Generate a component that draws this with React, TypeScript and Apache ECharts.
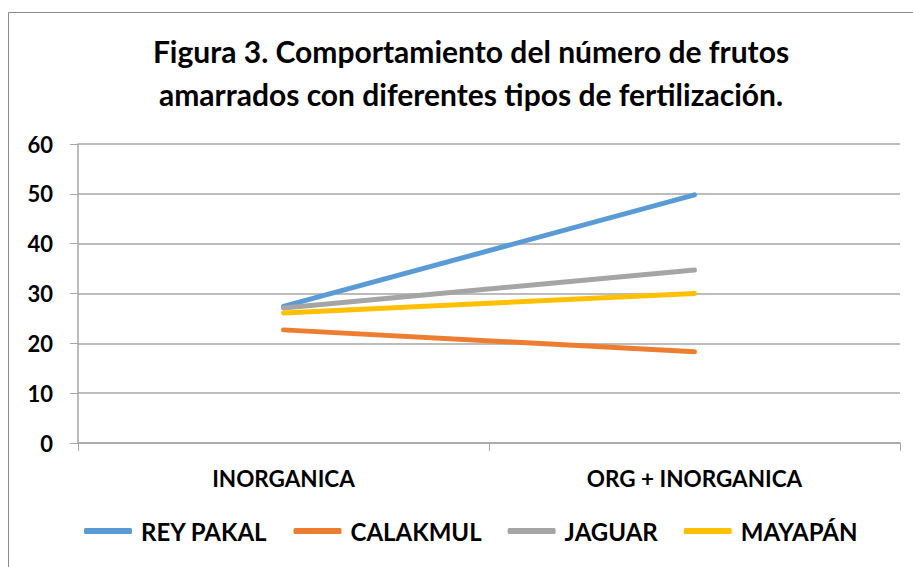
import React, { useEffect, useRef } from "react";
import * as echarts from "echarts";

const categories = ["INORGANICA", "ORG + INORGANICA"];
const seriesNames = ["REY PAKAL", "CALAKMUL", "JAGUAR", "MAYAPÁN"];
const reyPakal = [27.4, 49.8];
const calakmul = [22.7, 18.3];
const jaguar = [27.1, 34.7];
const mayapan = [26.1, 30.0];
const colors = ["#5B9BD5", "#ED7D31", "#A5A5A5", "#FFC000"];
const titleLines = [
  "Figura 3. Comportamiento del número de frutos",
  "amarrados con diferentes tipos de fertilización.",
];

const FONT = "Lato";

export default function App() {
  const ref = useRef<HTMLDivElement>(null);
  useEffect(() => {
    if (!ref.current) return;
    const chart = echarts.init(ref.current, null, { renderer: "svg" });
    const data = [reyPakal, calakmul, jaguar, mayapan];
    chart.setOption({
      animation: false,
      backgroundColor: "#ffffff",
      title: {
        text: titleLines.join("\n"),
        left: 466,
        textAlign: "center",
        top: 24,
        textStyle: {
          fontFamily: FONT,
          fontWeight: "bold",
          fontSize: 30,
          lineHeight: 43,
          color: "#000",
        },
      },
      graphic: [
        {
          type: "rect",
          shape: { x: 8.5, y: 12.5, width: 1000, height: 1000 },
          style: { fill: "none", stroke: "#8c8c8c", lineWidth: 1 },
          silent: true,
          z: -1,
        },
      ],
      legend: {
        data: seriesNames.map((n) => ({ name: n, icon: "roundRect" })),
        bottom: 19,
        left: 79,
        itemWidth: 48,
        itemHeight: 6,
        itemGap: 26,
        textStyle: {
          fontFamily: FONT,
          fontWeight: "bold",
          fontSize: 24,
          color: "#000",
          padding: [0, 0, 0, 4],
        },
      },
      grid: { left: 78, right: 13, top: 144, bottom: 124, containLabel: false },
      xAxis: {
        type: "category",
        data: categories,
        boundaryGap: true,
        axisLine: { lineStyle: { color: "#A6A6A6", width: 1.5 } },
        axisTick: { show: true, length: 8, lineStyle: { color: "#A6A6A6" } },
        axisLabel: {
          margin: 24,
          fontFamily: FONT,
          fontWeight: "bold",
          fontSize: 22.5,
          color: "#000",
        },
      },
      yAxis: {
        type: "value",
        min: 0,
        max: 60,
        interval: 10,
        axisLine: { show: true, lineStyle: { color: "#A6A6A6", width: 1.5 } },
        axisTick: { show: true, length: 8, lineStyle: { color: "#A6A6A6" } },
        splitLine: { lineStyle: { color: "#A6A6A6", width: 1.5 } },
        axisLabel: {
          margin: 25,
          fontFamily: FONT,
          fontWeight: "bold",
          fontSize: 22,
          color: "#000",
        },
      },
      series: seriesNames.map((name, i) => ({
        name,
        type: "line",
        data: data[i],
        symbol: "none",
        color: colors[i],
        lineStyle: { width: 5, color: colors[i], cap: "round" },
      })),
    });
    return () => chart.dispose();
  }, []);
  return (
    <div
      ref={ref}
      style={{ position: "absolute", left: 0, top: 0, width: 913, height: 567 }}
    />
  );
}
